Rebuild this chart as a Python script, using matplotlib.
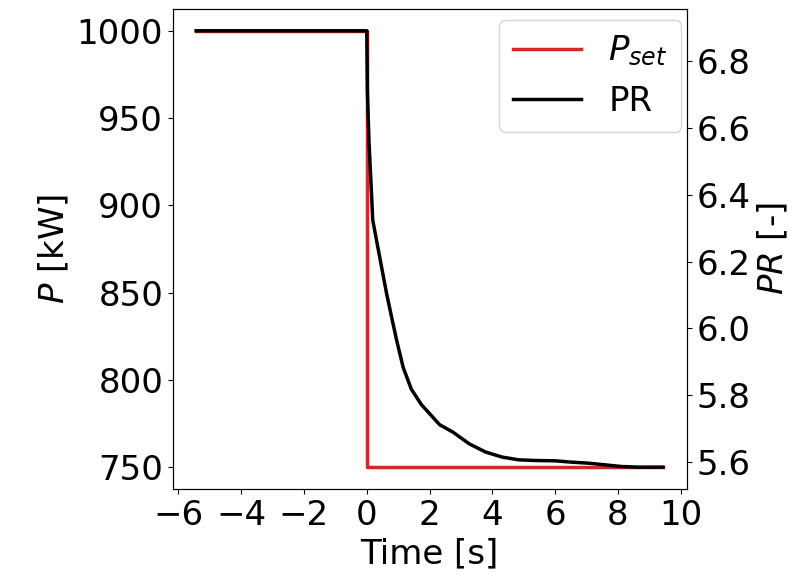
import numpy as np
import matplotlib.pyplot as plt

# setpoint step
t_set = [-5.43, 0.0, 0.0, 9.44]
p_set = [1000, 1000, 750, 750]

# pressure ratio response
t_pr = [-5.43, 0.0, 0.02, 0.07, 0.16, 0.19, 0.31, 0.47, 0.63, 0.79, 0.95, 1.16,
        1.42, 1.74, 2.05, 2.32, 2.74, 3.26, 3.79, 4.32, 4.84, 5.37, 6.0, 6.53,
        7.06, 7.59, 8.11, 8.64, 9.43]
pr = [6.89, 6.89, 6.71, 6.56, 6.384, 6.324, 6.264, 6.184, 6.105, 6.034, 5.965, 5.883,
      5.818, 5.772, 5.740, 5.712, 5.690, 5.655, 5.630, 5.615, 5.607, 5.605, 5.604, 5.600,
      5.597, 5.592, 5.587, 5.585, 5.585]

plt.rcParams['font.size'] = 24.5

fig = plt.figure(figsize=(8.04, 5.77), dpi=100)
ax = fig.add_axes([0.215, 0.1525, 0.639, 0.832])
ax2 = ax.twinx()

l1, = ax.plot(t_set, p_set, color='tab:red', lw=2.5, label='$P_{set}$')
l2, = ax2.plot(t_pr, pr, color='k', lw=2.5, label='PR', solid_joinstyle='round')

ax.set_xlabel('Time [s]')
ax.set_ylabel('$P$ [kW]')
ax2.set_ylabel('$PR$ [-]')
ax.set_xticks(np.arange(-6, 11, 2))
ax.set_yticks(np.arange(750, 1001, 50))
ax2.set_yticks([5.6, 5.8, 6.0, 6.2, 6.4, 6.6, 6.8])

ax2.legend([l1, l2], ['$P_{set}$', 'PR'], loc='upper right',
           bbox_to_anchor=(0.99, 0.977), borderaxespad=0)

fig.savefig('out.png', dpi=100)
